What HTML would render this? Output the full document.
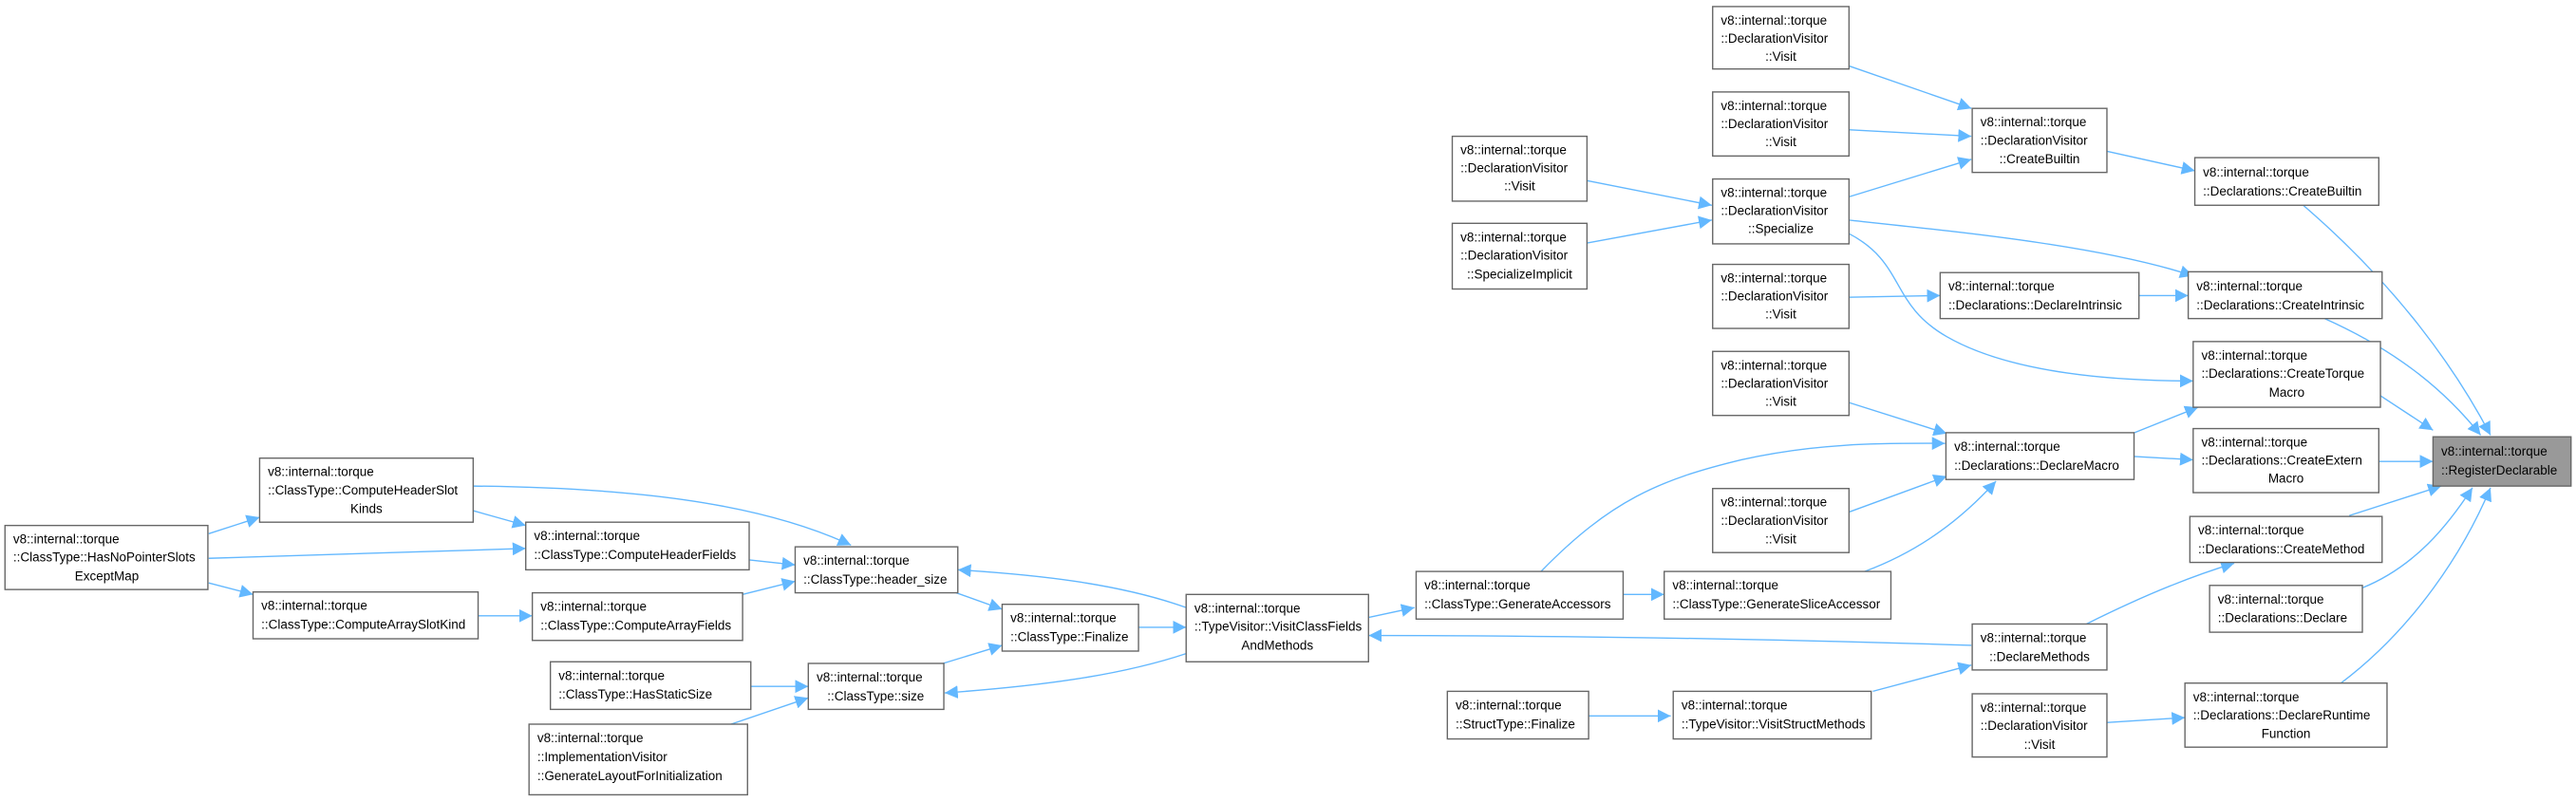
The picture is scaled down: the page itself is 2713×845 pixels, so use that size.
<!DOCTYPE html>
<html><head><meta charset="utf-8"><style>
html,body{margin:0;padding:0;background:#fff;}
svg{display:block}
text{font-family:"Liberation Sans",sans-serif;font-size:7.8px;fill:#000}
.n{fill:#fff;stroke:#666;stroke-width:0.8}
.e{fill:none;stroke:#63b8ff;stroke-width:0.8}
</style></head><body>
<svg width="2713" height="845" viewBox="0 0 1568 488.4" xmlns="http://www.w3.org/2000/svg">
<defs><marker id="a" viewBox="0 0 10 10" refX="10" refY="5" markerWidth="8" markerHeight="8" markerUnits="userSpaceOnUse" orient="auto"><path d="M0,0L10,5L0,10z" fill="#63b8ff"/></marker></defs>
<g class="edges">
<path class="e" marker-end="url(#a)" d="M1402,125 C1460,175 1495,225 1516,265"/>
<path class="e" marker-end="url(#a)" d="M1415,194 C1462,215 1490,240 1510,265"/>
<path class="e" marker-end="url(#a)" d="M1449,241 L1481,262"/>
<path class="e" marker-end="url(#a)" d="M1448,281 L1481,281"/>
<path class="e" marker-end="url(#a)" d="M1430,314 L1486,296"/>
<path class="e" marker-end="url(#a)" d="M1438,358 C1470,345 1490,320 1505,297"/>
<path class="e" marker-end="url(#a)" d="M1425,416 C1470,382 1500,335 1516,297"/>
<path class="e" marker-end="url(#a)" d="M1282,92 L1336,104"/>
<path class="e" marker-end="url(#a)" d="M1125,40 L1200,66"/>
<path class="e" marker-end="url(#a)" d="M1125,79 L1200,83"/>
<path class="e" marker-end="url(#a)" d="M1125,120 L1200,97"/>
<path class="e" marker-end="url(#a)" d="M966,110 L1042,125"/>
<path class="e" marker-end="url(#a)" d="M966,148 L1042,134"/>
<path class="e" marker-end="url(#a)" d="M1125,134 C1200,142 1280,150 1335,168"/>
<path class="e" marker-end="url(#a)" d="M1125,142 C1160,160 1150,185 1185,205 C1225,228 1290,232 1335,232"/>
<path class="e" marker-end="url(#a)" d="M1125,181 L1181,180"/>
<path class="e" marker-end="url(#a)" d="M1302,180 L1332,180"/>
<path class="e" marker-end="url(#a)" d="M1298,264 L1338,248"/>
<path class="e" marker-end="url(#a)" d="M1299,278 L1335,280"/>
<path class="e" marker-end="url(#a)" d="M1125,245 L1185,264"/>
<path class="e" marker-end="url(#a)" d="M1125,312 L1185,290"/>
<path class="e" marker-end="url(#a)" d="M1135,348 C1170,335 1195,315 1215,293"/>
<path class="e" marker-end="url(#a)" d="M938,348 C980,305 1010,292 1060,280 C1110,269 1150,270 1184,270"/>
<path class="e" marker-end="url(#a)" d="M988,362 L1013,362"/>
<path class="e" marker-end="url(#a)" d="M833,376 L861,370"/>
<path class="e" marker-end="url(#a)" d="M1270,380 C1300,365 1330,352 1360,343"/>
<path class="e" marker-end="url(#a)" d="M1200,393 C1050,388 900,387 833,387"/>
<path class="e" marker-end="url(#a)" d="M1140,421 L1200,405"/>
<path class="e" marker-end="url(#a)" d="M967,436 L1017,436"/>
<path class="e" marker-end="url(#a)" d="M1282,440 L1330,437"/>
<path class="e" marker-end="url(#a)" d="M693,382 L722,382"/>
<path class="e" marker-end="url(#a)" d="M582,361 L610,371"/>
<path class="e" marker-end="url(#a)" d="M574,404 L610,393"/>
<path class="e" marker-end="url(#a)" d="M722,370 C680,355 630,350 583,347"/>
<path class="e" marker-end="url(#a)" d="M722,398 C680,412 630,418 575,422"/>
<path class="e" marker-end="url(#a)" d="M288,296 C380,297 460,305 518,332"/>
<path class="e" marker-end="url(#a)" d="M288,311 L320,320"/>
<path class="e" marker-end="url(#a)" d="M456,341 L484,344"/>
<path class="e" marker-end="url(#a)" d="M452,362 L484,354"/>
<path class="e" marker-end="url(#a)" d="M291,375 L324,375"/>
<path class="e" marker-end="url(#a)" d="M127,325 L158,315"/>
<path class="e" marker-end="url(#a)" d="M127,340 L320,334"/>
<path class="e" marker-end="url(#a)" d="M127,355 L154,362"/>
<path class="e" marker-end="url(#a)" d="M457,418 L492,418"/>
<path class="e" marker-end="url(#a)" d="M445,441 L492,425"/>
</g>
<g>
<rect x="1481" y="266" width="84" height="30" fill="#999" stroke="#666" stroke-width="0.8"/><text x="1486" y="277.5">v8::internal::torque</text><text x="1486" y="289">::RegisterDeclarable</text>

<rect class="n" x="1336" y="96" width="112" height="29"/><text x="1341" y="107.5">v8::internal::torque</text><text x="1341" y="119">::Declarations::CreateBuiltin</text>
<rect class="n" x="1332" y="165.5" width="118" height="28.5"/><text x="1337" y="177">v8::internal::torque</text><text x="1337" y="188.5">::Declarations::CreateIntrinsic</text>
<rect class="n" x="1335" y="208" width="114" height="40"/><text x="1340" y="219">v8::internal::torque</text><text x="1340" y="230">::Declarations::CreateTorque</text><text x="1392" y="241.5" text-anchor="middle">Macro</text>
<rect class="n" x="1335" y="261" width="113" height="39"/><text x="1340" y="272">v8::internal::torque</text><text x="1340" y="283">::Declarations::CreateExtern</text><text x="1391.5" y="294" text-anchor="middle">Macro</text>
<rect class="n" x="1333" y="314.5" width="117" height="28"/><text x="1338" y="325.5">v8::internal::torque</text><text x="1338" y="337">::Declarations::CreateMethod</text>
<rect class="n" x="1345" y="356.5" width="93" height="28.5"/><text x="1350" y="367.5">v8::internal::torque</text><text x="1350" y="379">::Declarations::Declare</text>
<rect class="n" x="1330" y="416" width="123" height="39"/><text x="1335" y="427">v8::internal::torque</text><text x="1335" y="438">::Declarations::DeclareRuntime</text><text x="1391.5" y="449.5" text-anchor="middle">Function</text>

<rect class="n" x="1200.5" y="66" width="82" height="39"/><text x="1205.5" y="77">v8::internal::torque</text><text x="1205.5" y="88">::DeclarationVisitor</text><text x="1241.5" y="99.5" text-anchor="middle">::CreateBuiltin</text>
<rect class="n" x="1042.5" y="4" width="83" height="38"/><text x="1047.5" y="15">v8::internal::torque</text><text x="1047.5" y="26">::DeclarationVisitor</text><text x="1084" y="37" text-anchor="middle">::Visit</text>
<rect class="n" x="1042.5" y="56" width="83" height="39"/><text x="1047.5" y="67">v8::internal::torque</text><text x="1047.5" y="78">::DeclarationVisitor</text><text x="1084" y="89" text-anchor="middle">::Visit</text>
<rect class="n" x="884" y="83" width="82" height="39.5"/><text x="889" y="94">v8::internal::torque</text><text x="889" y="105">::DeclarationVisitor</text><text x="925" y="116" text-anchor="middle">::Visit</text>
<rect class="n" x="1042.5" y="109" width="83" height="39.5"/><text x="1047.5" y="120">v8::internal::torque</text><text x="1047.5" y="131">::DeclarationVisitor</text><text x="1084" y="142" text-anchor="middle">::Specialize</text>
<rect class="n" x="884" y="136" width="82" height="40"/><text x="889" y="147">v8::internal::torque</text><text x="889" y="158">::DeclarationVisitor</text><text x="925" y="169.5" text-anchor="middle">::SpecializeImplicit</text>
<rect class="n" x="1042.5" y="161" width="83" height="39"/><text x="1047.5" y="172">v8::internal::torque</text><text x="1047.5" y="183">::DeclarationVisitor</text><text x="1084" y="194" text-anchor="middle">::Visit</text>
<rect class="n" x="1181" y="166" width="121" height="28"/><text x="1186" y="177">v8::internal::torque</text><text x="1186" y="188.5">::Declarations::DeclareIntrinsic</text>
<rect class="n" x="1042.5" y="214" width="83" height="39"/><text x="1047.5" y="225">v8::internal::torque</text><text x="1047.5" y="236">::DeclarationVisitor</text><text x="1084" y="247" text-anchor="middle">::Visit</text>
<rect class="n" x="1184.5" y="263.5" width="114.5" height="28.5"/><text x="1189.5" y="274.5">v8::internal::torque</text><text x="1189.5" y="286">::Declarations::DeclareMacro</text>
<rect class="n" x="1042.5" y="297.5" width="83" height="39"/><text x="1047.5" y="308.5">v8::internal::torque</text><text x="1047.5" y="319.5">::DeclarationVisitor</text><text x="1084" y="331" text-anchor="middle">::Visit</text>
<rect class="n" x="1013" y="348" width="138" height="29"/><text x="1018" y="359">v8::internal::torque</text><text x="1018" y="370.5">::ClassType::GenerateSliceAccessor</text>
<rect class="n" x="862" y="348" width="126" height="29"/><text x="867" y="359">v8::internal::torque</text><text x="867" y="370.5">::ClassType::GenerateAccessors</text>
<rect class="n" x="1200.5" y="380" width="82" height="28"/><text x="1205.5" y="391">v8::internal::torque</text><text x="1241.5" y="402.5" text-anchor="middle">::DeclareMethods</text>
<rect class="n" x="722" y="362" width="111" height="41"/><text x="727" y="373">v8::internal::torque</text><text x="727" y="384">::TypeVisitor::VisitClassFields</text><text x="777.5" y="395.5" text-anchor="middle">AndMethods</text>
<rect class="n" x="1018.5" y="421" width="120.5" height="29"/><text x="1023.5" y="432">v8::internal::torque</text><text x="1023.5" y="443.5">::TypeVisitor::VisitStructMethods</text>
<rect class="n" x="881" y="421" width="86" height="29"/><text x="886" y="432">v8::internal::torque</text><text x="886" y="443.5">::StructType::Finalize</text>
<rect class="n" x="1200.5" y="422.5" width="82" height="38.5"/><text x="1205.5" y="433.5">v8::internal::torque</text><text x="1205.5" y="444.5">::DeclarationVisitor</text><text x="1241.5" y="456" text-anchor="middle">::Visit</text>
<rect class="n" x="610" y="368" width="83" height="28.5"/><text x="615" y="379">v8::internal::torque</text><text x="615" y="390.5">::ClassType::Finalize</text>
<rect class="n" x="484" y="333" width="99" height="28"/><text x="489" y="344">v8::internal::torque</text><text x="489" y="355.5">::ClassType::header_size</text>
<rect class="n" x="492" y="404" width="82.5" height="28"/><text x="497" y="415">v8::internal::torque</text><text x="533" y="426.5" text-anchor="middle">::ClassType::size</text>
<rect class="n" x="158" y="279" width="130" height="39"/><text x="163" y="290">v8::internal::torque</text><text x="163" y="301">::ClassType::ComputeHeaderSlot</text><text x="223" y="312.5" text-anchor="middle">Kinds</text>
<rect class="n" x="320" y="318" width="136" height="29"/><text x="325" y="329">v8::internal::torque</text><text x="325" y="340.5">::ClassType::ComputeHeaderFields</text>
<rect class="n" x="154" y="360.5" width="137" height="28.5"/><text x="159" y="371.5">v8::internal::torque</text><text x="159" y="383">::ClassType::ComputeArraySlotKind</text>
<rect class="n" x="324" y="361" width="128" height="29"/><text x="329" y="372">v8::internal::torque</text><text x="329" y="383.5">::ClassType::ComputeArrayFields</text>
<rect class="n" x="3" y="320" width="123.5" height="39"/><text x="8" y="331">v8::internal::torque</text><text x="8" y="342">::ClassType::HasNoPointerSlots</text><text x="65" y="353.5" text-anchor="middle">ExceptMap</text>
<rect class="n" x="335" y="403" width="122" height="29"/><text x="340" y="414">v8::internal::torque</text><text x="340" y="425.5">::ClassType::HasStaticSize</text>
<rect class="n" x="322" y="441" width="133" height="43"/><text x="327" y="452">v8::internal::torque</text><text x="327" y="463.5">::ImplementationVisitor</text><text x="327" y="475">::GenerateLayoutForInitialization</text>
</g>
</svg>
</body></html>
